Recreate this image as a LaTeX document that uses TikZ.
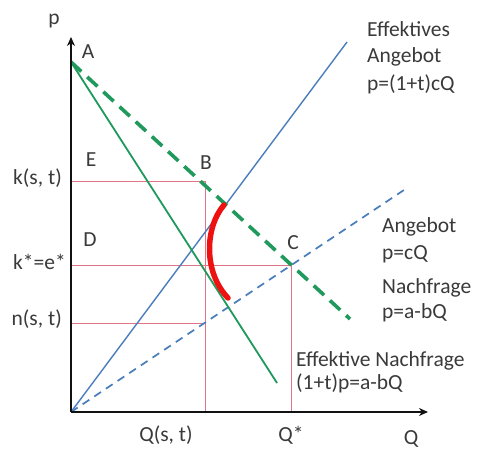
\documentclass[tikz,border=0pt]{standalone}
\usepackage{fontspec}
\setmainfont{Carlito}
\usepackage{tikz}
\usepackage{xcolor}
\usetikzlibrary{arrows.meta,positioning,calc}
\definecolor{axisblack}{HTML}{111111}
\definecolor{demgreen}{HTML}{1F9A5C}
\definecolor{supblue}{HTML}{4A7EBB}
\definecolor{arcred}{HTML}{EE1111}
\definecolor{guidepink}{HTML}{E27585}
\definecolor{labelgray}{HTML}{3A3A3A}
\tikzset{
  axis/.style={-{Stealth[length=9pt,width=8pt]},line width=2.6pt,draw=axisblack},
  demand/.style={line width=1.8pt,draw=demgreen},
  effdemand/.style={line width=3.6pt,draw=demgreen,dash pattern=on 14pt off 8pt},
  supply/.style={line width=1.4pt,draw=supblue},
  effsupply/.style={line width=1.8pt,draw=supblue,dash pattern=on 8pt off 6pt},
  guide/.style={line width=0.9pt,draw=guidepink},
  welfarearc/.style={line width=5.5pt,draw=arcred,line cap=round},
  lbl/.style={font=\fontsize{21.5}{27}\selectfont,text=labelgray,inner sep=1pt},
  curvelbl/.style={lbl,anchor=base west,inner sep=0pt}
}
\begin{document}
\begin{tikzpicture}[x=1pt,y=1pt]
    \path[use as bounding box,fill=white] (0,0) rectangle (479,452);
    % axes
    \coordinate (O) at (71,40);
    \coordinate (ytip) at (71,415);
    \coordinate (xtip) at (428,40);
    % curve ends
    \coordinate (A) at (71,390);
    \coordinate (dEnd) at (277,69);
    \coordinate (edEnd) at (350,133);
    \coordinate (esEnd) at (347,410);
    \coordinate (sEnd) at (407,264);
    \coordinate (C) at (intersection of A--edEnd and O--sEnd);
    \coordinate (kY) at (71,271);
    \coordinate (kB) at (205,271);
    \coordinate (qst) at (205,40);
    \coordinate (nY) at (71,129);
    \coordinate (nB) at (205,129);
    \coordinate (cY) at (O |- C);
    \coordinate (cQ) at (C |- O);
    \coordinate (arcTop) at (224,247);
    \coordinate (arcBot) at (228,154);

    \draw[guide] (kY) -- (kB) -- (qst);
    \draw[guide] (nY) -- (nB);
    \draw[guide] (cY) -- (C) -- (cQ);

    \draw[supply] (O) -- (esEnd);
    \draw[effsupply] (O) -- (sEnd);
    \draw[demand] (A) -- (dEnd);
    \draw[effdemand] (A) -- (edEnd);
    \draw[welfarearc] (arcTop) .. controls (205,225) and (203,180) .. (arcBot);

    \draw[axis] (O) -- (ytip);
    \draw[axis] (O) -- (xtip);

    % axis labels
    \node[lbl] (pLab) at (54,431) {p};
    \node[lbl] (QLab) at (411,13) {Q};
    \node[lbl,anchor=east] (kLab) at (63,274) {k(s, t)};
    \node[lbl,anchor=east] (keLab) at (67,190) {k*=e*};
    \node[lbl,anchor=east] (nLab) at (63,133) {n(s, t)};
    \node[lbl] (qstLab) at (166,17) {Q(s, t)};
    \node[lbl] (qsLab) at (291,17) {Q*};

    % points
    \node[lbl] (ALab) at (88,400) {A};
    \node[lbl] (ELab) at (91,292) {E};
    \node[lbl] (BLab) at (206,289) {B};
    \node[lbl] (DLab) at (90,212) {D};
    \node[lbl] (CLab) at (293,209) {C};

    % curve labels
    \node[curvelbl] (esLabA) at (367,415) {Effektives};
    \node[curvelbl] (esLabB) at (367,389) {Angebot};
    \node[curvelbl] (esLabC) at (367,361) {p=(1+t)cQ};
    \node[curvelbl] (sLabA) at (382,219) {Angebot};
    \node[curvelbl] (sLabB) at (382,192) {p=cQ};
    \node[curvelbl] (dLabA) at (382,158) {Nachfrage};
    \node[curvelbl] (dLabB) at (382,133) {p=a-bQ};
    \node[curvelbl] (edLabA) at (296,85) {Effektive Nachfrage};
    \node[curvelbl] (edLabB) at (296,62) {(1+t)p=a-bQ};
\end{tikzpicture}
\end{document}
